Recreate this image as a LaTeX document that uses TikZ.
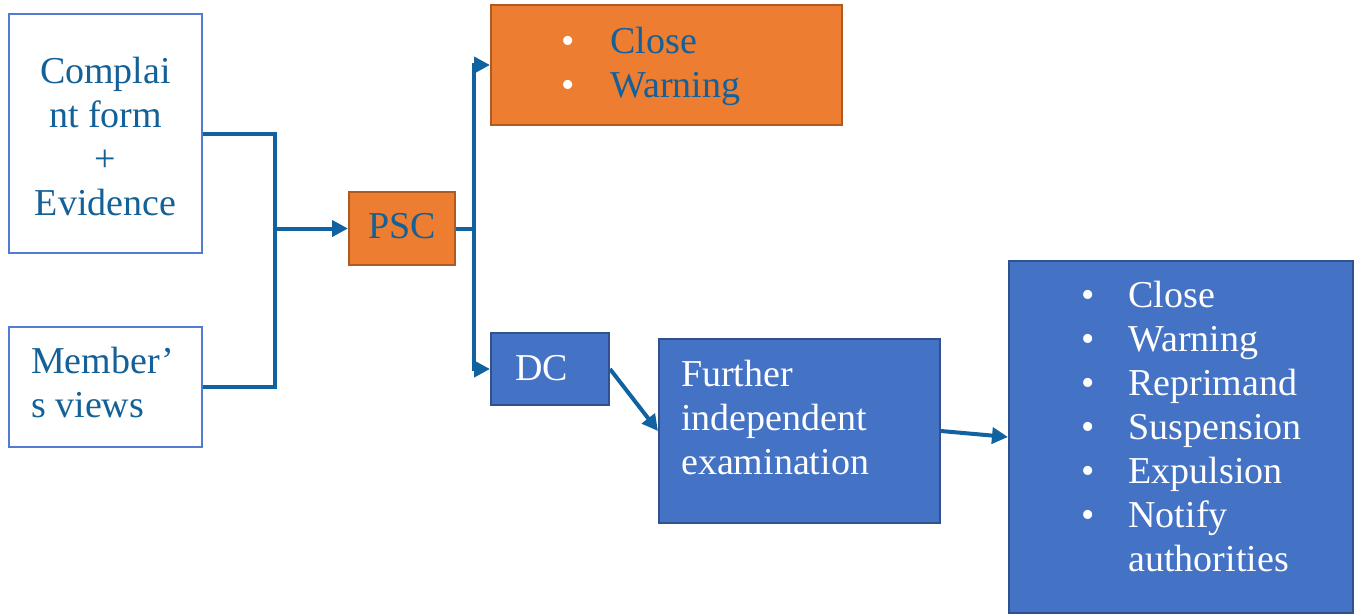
\documentclass[tikz,border=0pt]{standalone}
\usepackage{fontspec}
\setmainfont{Liberation Serif}
\usetikzlibrary{arrows.meta}
\definecolor{lineblue}{RGB}{16,99,160}
\definecolor{txtblue}{RGB}{20,96,152}
\definecolor{boxline}{RGB}{82,124,210}
\definecolor{orfill}{RGB}{237,125,49}
\definecolor{ordraw}{RGB}{174,90,33}
\definecolor{blfill}{RGB}{68,114,196}
\definecolor{bldraw}{RGB}{47,82,143}
\newcommand{\wbul}{\textcolor{white}{•}}
\begin{document}
\begin{tikzpicture}[x=1pt,y=-1pt,
  whitebox/.style={draw=boxline, fill=white, line width=2pt, inner sep=0pt},
  orbox/.style={draw=ordraw, fill=orfill, line width=2pt, inner sep=0pt},
  blbox/.style={draw=bldraw, fill=blfill, line width=2pt, inner sep=0pt},
  txt/.style={inner sep=0pt, anchor=base west, font=\fontsize{38}{44}\selectfont, text=txtblue},
  wtxt/.style={txt, text=white},
  conn/.style={draw=lineblue, line width=4pt},
  arr/.style={conn, -{Triangle[length=16pt,width=16pt]}}]
\useasboundingbox (0,0) rectangle (1363,614);
% boxes
\node[whitebox, minimum width=193pt, minimum height=239pt] (A) at (105.5,133.5) {};
\node[whitebox, minimum width=193pt, minimum height=120pt] (B) at (105.5,387) {};
\node[orbox, minimum width=106pt, minimum height=73pt] (PSC) at (402,228.5) {};
\node[orbox, minimum width=351pt, minimum height=120pt] (OB) at (666.5,65) {};
\node[blbox, minimum width=118pt, minimum height=72pt] (DC) at (550,369) {};
\node[blbox, minimum width=281pt, minimum height=184pt] (FB) at (799.5,431) {};
\node[blbox, minimum width=344pt, minimum height=352pt] (RB) at (1181,437) {};
% texts
\node[txt, anchor=base] (At) at (105.5,83) {\begin{tabular}[t]{@{}c@{}}Complai\\nt form\\+\\Evidence\end{tabular}};
\node[txt] (Bt) at (31,373) {\begin{tabular}[t]{@{}l@{}}Member’\\s views\end{tabular}};
\node[txt, anchor=base] (PSCt) at (402,238) {PSC};
\node[txt] (OBt) at (561,53) {\begin{tabular}[t]{@{}l@{\hspace{36pt}}l@{}}\wbul & Close\\\wbul & Warning\end{tabular}};
\node[wtxt] (DCt) at (515,380) {DC};
\node[wtxt] (FBt) at (681,386) {\begin{tabular}[t]{@{}l@{}}Further\\independent\\examination\end{tabular}};
\node[wtxt] (RBt) at (1081,307) {\begin{tabular}[t]{@{}l@{\hspace{34pt}}l@{}}•&Close\\•&Warning\\•&Reprimand\\•&Suspension\\•&Expulsion\\•&Notify\\&authorities\end{tabular}};
% connectors
\coordinate (j) at (275,228.5);
\coordinate (k) at (474,228.5);
\draw[conn] (A.east) -| (j);
\draw[conn] (B.east) -| (j);
\draw[arr] (j) -- (PSC.west);
\draw[conn] (PSC.east) -- (k);
\draw[arr] (k) |- (OB.west);
\draw[arr] (k) |- (DC.west);
\draw[arr] (DC.east) -- (FB.west);
\draw[arr] (FB.east) -- (RB.west);
\end{tikzpicture}
\end{document}
